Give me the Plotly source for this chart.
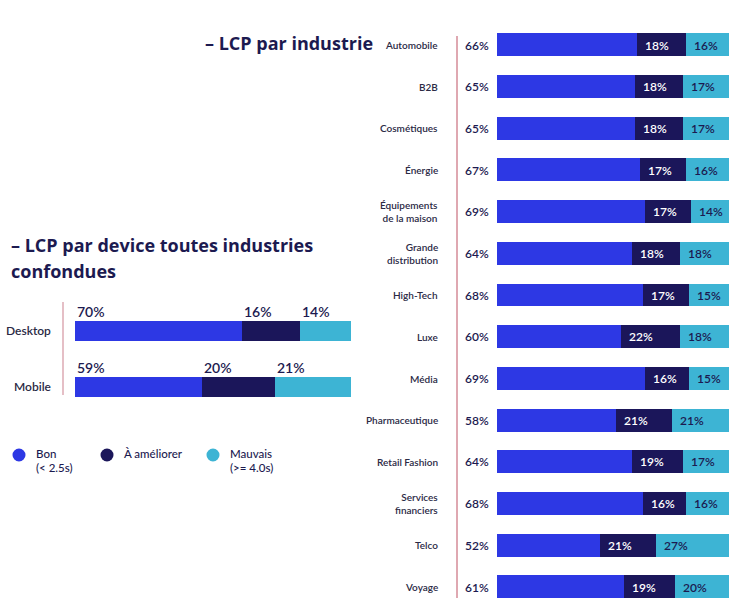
import plotly.graph_objects as go

# ---------------- data ----------------
industries = ["Automobile", "B2B", "Cosmétiques", "Énergie", "Équipements de la maison",
              "Grande distribution", "High-Tech", "Luxe", "Média", "Pharmaceutique",
              "Retail Fashion", "Services financiers", "Telco", "Voyage"]
industry_labels = ["Automobile", "B2B", "Cosmétiques", "Énergie", "Équipements<br>de la maison",
                   "Grande<br>distribution", "High-Tech", "Luxe", "Média", "Pharmaceutique",
                   "Retail Fashion", "Services<br>financiers", "Telco", "Voyage"]
ind_bon = [66, 65, 65, 67, 69, 64, 68, 60, 69, 58, 64, 68, 52, 61]
ind_ameliorer = [18, 18, 18, 17, 17, 18, 17, 22, 16, 21, 19, 16, 21, 19]
ind_mauvais = [16, 17, 17, 16, 14, 18, 15, 18, 15, 21, 17, 16, 27, 20]

devices = ["Desktop", "Mobile"]
dev_bon = [70, 59]
dev_ameliorer = [16, 20]
dev_mauvais = [14, 21]

series_names = ["Bon", "À améliorer", "Mauvais"]
legend_sub = ["(&lt; 2.5s)", "", "(&gt;= 4.0s)"]

# ---------------- styles ----------------
BLUE = "#2d38e4"
DARK = "#1b165a"
CYAN = "#3db4d4"
NAVY = "#1c1a50"
LINE = "#d48b97"
FONT = "Lato"
TFONT = "Open Sans"
colors = [BLUE, DARK, CYAN]

W, H = 750, 609
def px_x(p):
    return p / W
def px_y(p):
    return 1 - p / H

RIGHT_MIN = 14
LEFT_MIN = 24

fig = go.Figure()

# right chart (industries) -> xaxis2 / yaxis2
for name, vals, col in zip(series_names, [ind_bon, ind_ameliorer, ind_mauvais], colors):
    fig.add_trace(go.Bar(y=industries, x=vals, orientation="h", name=name,
                         marker=dict(color=col, line=dict(width=0)), width=0.55,
                         xaxis="x2", yaxis="y2", showlegend=False, hoverinfo="skip"))

# left chart (devices) -> xaxis / yaxis
for name, vals, col in zip(series_names, [dev_bon, dev_ameliorer, dev_mauvais], colors):
    fig.add_trace(go.Bar(y=devices, x=vals, orientation="h", name=name,
                         marker=dict(color=col, line=dict(width=0)), width=0.34,
                         xaxis="x", yaxis="y", showlegend=False, hoverinfo="skip"))

ann = []
# right chart labels
for i, cat in enumerate(industries):
    ann.append(dict(x=px_x(440), xref="paper", y=cat, yref="y2", text=industry_labels[i],
                    xanchor="right", yanchor="middle", showarrow=False, align="right",
                    font=dict(family=FONT, size=10, color="#2b2a45", weight=600)))
    ann.append(dict(x=RIGHT_MIN, xref="x2", y=cat, yref="y2", text=f"{ind_bon[i]}%",
                    xanchor="right", yanchor="middle", showarrow=False, xshift=-6,
                    font=dict(family=FONT, size=12, color=NAVY, weight=600)))
    ann.append(dict(x=ind_bon[i], xref="x2", y=cat, yref="y2", text=f"{ind_ameliorer[i]}%",
                    xanchor="left", yanchor="middle", showarrow=False, xshift=6,
                    font=dict(family=FONT, size=12, color="white", weight=600)))
    ann.append(dict(x=ind_bon[i] + ind_ameliorer[i], xref="x2", y=cat, yref="y2",
                    text=f"{ind_mauvais[i]}%", xanchor="left", yanchor="middle",
                    showarrow=False, xshift=6,
                    font=dict(family=FONT, size=12, color=NAVY, weight=600)))

# left chart labels
for i, cat in enumerate(devices):
    ann.append(dict(x=px_x(53), xref="paper", y=cat, yref="y", text=cat,
                    xanchor="right", yanchor="middle", showarrow=False,
                    font=dict(family=FONT, size=12, color="#2b2a45", weight=600)))
    starts = [0, dev_bon[i], dev_bon[i] + dev_ameliorer[i]]
    vals = [dev_bon[i], dev_ameliorer[i], dev_mauvais[i]]
    for s, v in zip(starts, vals):
        ann.append(dict(x=max(s, LEFT_MIN), xref="x", y=cat, yref="y", text=f"{v}%",
                        xanchor="left", yanchor="middle", showarrow=False, yshift=19,
                        font=dict(family=FONT, size=14, color=NAVY, weight=600)))

# titles
ann.append(dict(x=px_x(203), y=px_y(43), xref="paper", yref="paper", text="– LCP par industrie",
                xanchor="left", yanchor="middle", showarrow=False,
                font=dict(family=TFONT, size=18, color=NAVY, weight=700)))
ann.append(dict(x=px_x(9), y=px_y(245), xref="paper", yref="paper",
                text="– LCP par device toutes industries",
                xanchor="left", yanchor="middle", showarrow=False,
                font=dict(family=TFONT, size=18, color=NAVY, weight=700)))
ann.append(dict(x=px_x(9), y=px_y(271), xref="paper", yref="paper", text="confondues",
                xanchor="left", yanchor="middle", showarrow=False,
                font=dict(family=TFONT, size=18, color=NAVY, weight=700)))

# legend
shapes = []
leg_x = [19, 107, 213]
for k in range(3):
    cx, cy, r = leg_x[k], 455, 6.5
    shapes.append(dict(type="circle", xref="paper", yref="paper",
                       x0=px_x(cx - r), x1=px_x(cx + r), y0=px_y(cy + r), y1=px_y(cy - r),
                       fillcolor=colors[k], line=dict(width=0)))
    ann.append(dict(x=px_x(cx + 15), y=px_y(453), xref="paper", yref="paper",
                    text=series_names[k], xanchor="left", yanchor="middle", showarrow=False,
                    font=dict(family=FONT, size=11.5, color=NAVY, weight=500)))
    if legend_sub[k]:
        ann.append(dict(x=px_x(cx + 15), y=px_y(468), xref="paper", yref="paper",
                        text=legend_sub[k], xanchor="left", yanchor="middle", showarrow=False,
                        font=dict(family=FONT, size=11.5, color=NAVY, weight=500)))

# vertical separator lines
shapes.append(dict(type="line", xref="paper", yref="paper", x0=px_x(457), x1=px_x(457),
                   y0=px_y(36), y1=px_y(598), line=dict(color=LINE, width=1.5)))
shapes.append(dict(type="line", xref="paper", yref="paper", x0=px_x(63), x1=px_x(63),
                   y0=px_y(302), y1=px_y(395), line=dict(color="#dcaab3", width=1.5)))

hidden = dict(showgrid=False, zeroline=False, showticklabels=False, showline=False, ticks="")
fig.update_layout(
    width=W, height=H, margin=dict(l=0, r=0, t=0, b=0),
    paper_bgcolor="white", plot_bgcolor="white",
    barmode="stack", bargap=0,
    xaxis=dict(domain=[px_x(75), px_x(351)], range=[LEFT_MIN, 100], anchor="y", **hidden),
    yaxis=dict(domain=[px_y(414.5), px_y(302.5)], range=[1.5, -0.5], anchor="x",
               type="category", **hidden),
    xaxis2=dict(domain=[px_x(497), px_x(729)], range=[RIGHT_MIN, 100], anchor="y2", **hidden),
    yaxis2=dict(domain=[px_y(607.9), px_y(24.2)], range=[13.5, -0.5], anchor="x2",
                type="category", **hidden),
    annotations=ann, shapes=shapes, showlegend=False,
)

fig.write_html("out.html")
